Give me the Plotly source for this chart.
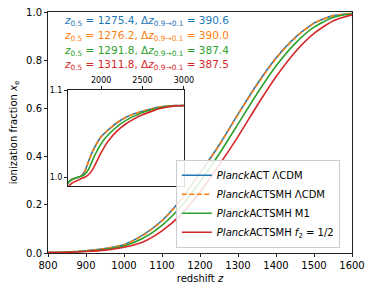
import plotly.graph_objects as go

# redshift grid
z = [800, 850, 900, 950, 1000, 1050, 1100, 1150, 1200, 1250, 1300, 1350, 1400, 1450, 1500, 1550, 1600,
     1650, 1700, 1750, 1800, 1850, 1900, 1950, 2000, 2050, 2100, 2200, 2300, 2400, 2500, 2600, 2700, 2800, 2900, 3000]

xe_act_lcdm = [0.002, 0.004, 0.009, 0.018, 0.035, 0.075, 0.135, 0.222, 0.332, 0.447, 0.576, 0.700, 0.809, 0.894, 0.954, 0.985, 0.994,
               0.9975, 0.9993, 1.0011, 1.0065, 1.019, 1.0305, 1.0393, 1.0468, 1.0513, 1.0556, 1.0631, 1.0689, 1.0728, 1.0758,
               1.0783, 1.0805, 1.0817, 1.0822, 1.0824]
xe_smh_lcdm = [0.002, 0.004, 0.009, 0.018, 0.034, 0.073, 0.133, 0.220, 0.330, 0.445, 0.574, 0.698, 0.807, 0.893, 0.953, 0.984, 0.994,
               0.9975, 0.9993, 1.0010, 1.0062, 1.0186, 1.0301, 1.0390, 1.0465, 1.0511, 1.0554, 1.0630, 1.0688, 1.0727, 1.0757,
               1.0783, 1.0805, 1.0817, 1.0822, 1.0824]
xe_smh_m1 = [0.0017, 0.0033, 0.0073, 0.015, 0.029, 0.061, 0.115, 0.193, 0.296, 0.410, 0.535, 0.661, 0.776, 0.869, 0.937, 0.977, 0.993,
             0.9980, 0.9995, 1.0008, 1.0033, 1.0095, 1.0205, 1.0304, 1.0385, 1.0450, 1.0502, 1.0588, 1.0652, 1.0701, 1.0744,
             1.0772, 1.0793, 1.0810, 1.0820, 1.0824]
xe_smh_f2 = [0.0015, 0.0027, 0.006, 0.012, 0.024, 0.046, 0.092, 0.159, 0.253, 0.364, 0.483, 0.611, 0.731, 0.833, 0.911, 0.963, 0.988,
             0.9935, 0.9958, 0.9981, 1.0000, 1.0032, 1.0093, 1.0189, 1.0282, 1.0366, 1.0434, 1.0537, 1.0614, 1.0670, 1.0717,
             1.0753, 1.0786, 1.0806, 1.0819, 1.0824]

names = ["<i>Planck</i>ACT ΛCDM", "<i>Planck</i>ACTSMH ΛCDM", "<i>Planck</i>ACTSMH M1",
         "<i>Planck</i>ACTSMH <i>f</i><sub>2</sub> = 1/2"]
colors = ["#1f77b4", "#ff7f0e", "#2ca02c", "#d62728"]
dashes = ["solid", "5px,2.5px", "solid", "solid"]
z_half = ["1275.4", "1276.2", "1291.8", "1311.8"]
dz = ["390.6", "390.0", "387.4", "387.5"]
series = [xe_act_lcdm, xe_smh_lcdm, xe_smh_m1, xe_smh_f2]

FONT = "DejaVu Sans"
fig = go.Figure()
for ys, nm, c, d in zip(series, names, colors, dashes):
    fig.add_trace(go.Scatter(x=z, y=ys, mode="lines", name=nm,
                             line=dict(color=c, width=1.6, dash=d, shape="spline", smoothing=0.6),
                             xaxis="x", yaxis="y"))
for ys, c, d in zip(series, colors, dashes):
    fig.add_trace(go.Scatter(x=z, y=ys, mode="lines", showlegend=False,
                             line=dict(color=c, width=1.6, dash=d, shape="spline", smoothing=0.6),
                             xaxis="x2", yaxis="y2"))

annos = []
ypos = [0.963, 0.902, 0.840, 0.780]
for zh, d, c, yp in zip(z_half, dz, colors, ypos):
    annos.append(dict(x=0.045, y=yp, xref="paper", yref="paper", xanchor="left", yanchor="middle",
                      showarrow=False,
                      text=f"<i>z</i><sub>0.5</sub> = {zh}, Δ<i>z</i><sub>0.9→0.1</sub> = {d}",
                      font=dict(family=FONT, size=10.5, color=c)))

axis_common = dict(showline=True, linecolor="#222", linewidth=1, mirror=True, ticks="outside",
                   ticklen=3, tickcolor="#222", showgrid=False, zeroline=False, automargin=False)

fig.update_layout(
    width=374, height=295,
    margin=dict(l=48, r=22, t=12, b=42),
    paper_bgcolor="white", plot_bgcolor="white",
    font=dict(family=FONT, size=10, color="black"),
    xaxis=dict(range=[800, 1600], tickvals=[800, 900, 1000, 1100, 1200, 1300, 1400, 1500, 1600],
               title=dict(text="redshift <i>z</i>", font=dict(size=10), standoff=4),
               tickfont=dict(size=10), **axis_common),
    yaxis=dict(range=[0, 1.0], tickvals=[0, 0.2, 0.4, 0.6, 0.8, 1.0], tickformat=".1f",
               title=dict(text="ionization fraction <i>x</i><sub>e</sub>", font=dict(size=10), standoff=6),
               tickfont=dict(size=10), **axis_common),
    xaxis2=dict(domain=[0.066, 0.447], anchor="y2", side="top", range=[1600, 3000],
                tickvals=[2000, 2500, 3000], tickfont=dict(size=8), **axis_common),
    yaxis2=dict(domain=[0.278, 0.676], anchor="x2", range=[0.99, 1.1],
                tickvals=[1.0, 1.1], tickformat=".1f", tickfont=dict(size=8), **axis_common),
    legend=dict(x=0.96, y=0.022, xanchor="right", yanchor="bottom",
                bgcolor="rgba(255,255,255,0.85)", bordercolor="#ccc", borderwidth=1,
                font=dict(family=FONT, size=10), tracegroupgap=0, itemwidth=30),
    annotations=annos,
    showlegend=True,
)

fig.write_html("out.html", config={"displayModeBar": False},
               post_script="document.body.style.margin='0';document.body.style.overflow='hidden';")
